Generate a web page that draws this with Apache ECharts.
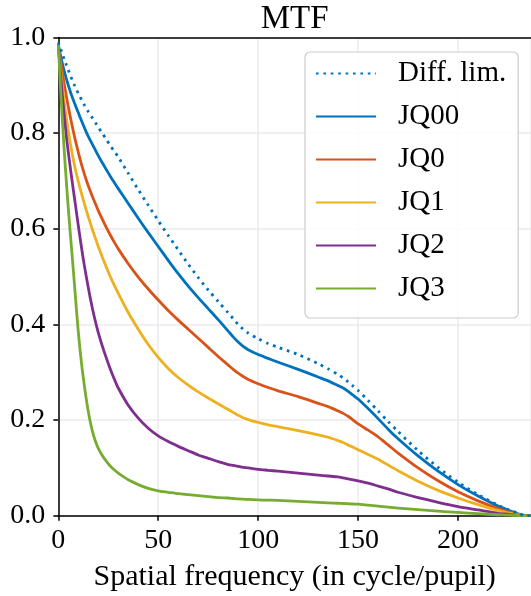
<!DOCTYPE html>
<html>
<head>
<meta charset="utf-8">
<style>
html,body{margin:0;padding:0;background:#fff;}
#chart{width:531px;height:596px;}
</style>
<script src="https://cdn.jsdelivr.net/npm/echarts@6/dist/echarts.min.js"></script>
</head>
<body>
<div id="chart"></div>
<script>
var seriesNames = ['Diff. lim.', 'JQ00', 'JQ0', 'JQ1', 'JQ2', 'JQ3'];
var freq = [0, 1, 2, 3, 4, 5, 6, 7, 8, 9, 10, 11, 12, 13, 14, 15, 16, 17, 18, 19, 20,
            22, 24, 26, 28, 30, 35, 40, 45, 50, 55, 60, 65, 70, 75, 80, 85,
            87.5, 90, 92.5, 95, 100, 105, 110, 120, 130, 135, 140, 142.5, 145, 147.5, 150,
            155, 160, 165, 170, 180, 190, 200, 210, 220, 225, 230, 234, 236.5];
var diffLim = [0.99, 0.978, 0.966, 0.954, 0.943, 0.932, 0.921, 0.911, 0.901, 0.892, 0.883, 0.875, 0.867, 0.859, 0.852, 0.845, 0.838, 0.832, 0.825, 0.819, 0.812,
            0.8, 0.787, 0.774, 0.762, 0.75, 0.716, 0.682, 0.649, 0.617, 0.586, 0.556, 0.526, 0.498, 0.472, 0.448, 0.424,
            0.412, 0.4, 0.39, 0.382, 0.37, 0.36, 0.352, 0.337, 0.318, 0.307, 0.295, 0.288, 0.28, 0.271, 0.262,
            0.241, 0.219, 0.197, 0.176, 0.136, 0.101, 0.07, 0.044, 0.022, 0.013, 0.005, 0, 0];
var jq00 = [0.985, 0.965, 0.946, 0.929, 0.914, 0.9, 0.887, 0.875, 0.864, 0.853, 0.843, 0.832, 0.822, 0.812, 0.802, 0.793, 0.785, 0.777, 0.769, 0.761, 0.753,
            0.738, 0.724, 0.71, 0.697, 0.684, 0.653, 0.622, 0.592, 0.563, 0.534, 0.506, 0.48, 0.456, 0.433, 0.41, 0.386,
            0.374, 0.363, 0.354, 0.347, 0.337, 0.329, 0.321, 0.306, 0.29, 0.282, 0.272, 0.267, 0.26, 0.252, 0.244,
            0.224, 0.203, 0.181, 0.161, 0.125, 0.093, 0.065, 0.041, 0.02, 0.012, 0.004, 0, 0];
var jq0 =  [0.985, 0.955, 0.928, 0.902, 0.878, 0.855, 0.834, 0.814, 0.795, 0.777, 0.76, 0.744, 0.729, 0.715, 0.702, 0.69, 0.679, 0.668, 0.658, 0.648, 0.638,
            0.62, 0.603, 0.587, 0.572, 0.558, 0.527, 0.499, 0.474, 0.451, 0.429, 0.409, 0.39, 0.371, 0.352, 0.333, 0.315,
            0.306, 0.298, 0.291, 0.285, 0.276, 0.268, 0.261, 0.249, 0.235, 0.228, 0.219, 0.214, 0.208, 0.2, 0.192,
            0.179, 0.165, 0.148, 0.131, 0.1, 0.073, 0.05, 0.031, 0.015, 0.009, 0.003, 0, 0];
var jq1 =  [0.985, 0.94, 0.9, 0.865, 0.833, 0.805, 0.779, 0.756, 0.735, 0.716, 0.699, 0.683, 0.668, 0.653, 0.639, 0.625, 0.612, 0.599, 0.587, 0.575, 0.563,
            0.541, 0.52, 0.5, 0.482, 0.465, 0.425, 0.39, 0.358, 0.331, 0.308, 0.289, 0.273, 0.259, 0.246, 0.234, 0.222,
            0.216, 0.21, 0.205, 0.201, 0.195, 0.19, 0.186, 0.178, 0.169, 0.164, 0.157, 0.153, 0.148, 0.143, 0.138,
            0.128, 0.118, 0.106, 0.094, 0.072, 0.053, 0.037, 0.023, 0.011, 0.006, 0.002, 0, 0];
var jq2 =  [0.985, 0.93, 0.88, 0.835, 0.795, 0.76, 0.728, 0.697, 0.667, 0.637, 0.607, 0.578, 0.55, 0.524, 0.5, 0.477, 0.455, 0.435, 0.416, 0.399, 0.383,
            0.355, 0.33, 0.307, 0.286, 0.267, 0.231, 0.204, 0.183, 0.167, 0.155, 0.145, 0.136, 0.127, 0.12, 0.113, 0.107,
            0.105, 0.103, 0.101, 0.1, 0.097, 0.095, 0.093, 0.089, 0.085, 0.083, 0.081, 0.079, 0.077, 0.075, 0.073,
            0.068, 0.062, 0.056, 0.049, 0.038, 0.028, 0.019, 0.012, 0.005, 0.003, 0.001, 0, 0];
var jq3 =  [0.985, 0.905, 0.83, 0.762, 0.7, 0.643, 0.59, 0.54, 0.488, 0.435, 0.385, 0.342, 0.305, 0.273, 0.244, 0.218, 0.196, 0.178, 0.163, 0.151, 0.141,
            0.126, 0.114, 0.104, 0.096, 0.089, 0.075, 0.065, 0.057, 0.052, 0.049, 0.046, 0.044, 0.042, 0.04, 0.038, 0.037,
            0.036, 0.035, 0.0345, 0.034, 0.033, 0.0325, 0.032, 0.03, 0.028, 0.027, 0.026, 0.0255, 0.025, 0.0245, 0.024,
            0.022, 0.02, 0.018, 0.016, 0.0125, 0.0095, 0.0068, 0.0042, 0.002, 0.0012, 0.0004, 0, 0];
var xTicks = [0, 50, 100, 150, 200];
var yTicks = ['0.0', '0.2', '0.4', '0.6', '0.8', '1.0'];
var colors = ['#0072BD', '#0072BD', '#D95319', '#EDB120', '#7E2F8E', '#77AC30'];
var valueSets = [diffLim, jq00, jq0, jq1, jq2, jq3];

var FONT = '"Liberation Serif", "DejaVu Serif", serif';

function pairs(arr) { return freq.map(function (x, i) { return [x, arr[i]]; }); }

var series = seriesNames.map(function (name, k) {
  return {
    name: name,
    type: 'line',
    data: pairs(valueSets[k]),
    symbol: 'none',
    smooth: 0.25,
    clip: true,
    z: k === 0 ? 3 : 2,
    lineStyle: {
      color: colors[k],
      width: 2.8,
      type: k === 0 ? [2.6, 4.8] : 'solid',
      cap: 'butt',
      join: 'round'
    },
    itemStyle: { color: colors[k] }
  };
});

var chart = echarts.init(document.getElementById('chart'), null, { renderer: 'canvas' });
chart.setOption({
  animation: false,
  backgroundColor: '#ffffff',
  grid: { left: 58.3, right: 0, top: 37.5, bottom: 80.3, containLabel: false, outerBoundsMode: 'none' },
  xAxis: [{
    type: 'value',
    position: 'bottom',
    min: 0, max: 236.5, interval: 50,
    name: 'Spatial frequency (in cycle/pupil)',
    nameLocation: 'middle',
    nameGap: 46,
    nameTextStyle: { fontFamily: FONT, fontSize: 30, color: '#000' },
    axisLine: { show: true, lineStyle: { color: '#000', width: 1.5 } },
    axisTick: { show: true, inside: false, length: 5, lineStyle: { color: '#000', width: 1.5 } },
    axisLabel: {
      show: true, margin: 11, fontFamily: FONT, fontSize: 28, color: '#000',
      showMaxLabel: false,
      formatter: function (v) { return xTicks.indexOf(v) >= 0 ? String(v) : ''; }
    },
    splitLine: { show: true, lineStyle: { color: '#ebebeb', width: 1.5 } }
  }, {
    type: 'value',
    position: 'top',
    min: 0, max: 236.5, interval: 50,
    name: 'MTF',
    nameLocation: 'middle',
    nameGap: 2,
    nameTextStyle: { fontFamily: FONT, fontSize: 33, color: '#000', verticalAlign: 'bottom' },
    axisLine: { show: true, lineStyle: { color: '#000', width: 1.5 } },
    axisTick: { show: false },
    axisLabel: { show: false },
    splitLine: { show: false }
  }],
  yAxis: {
    type: 'value',
    min: 0, max: 1, interval: 0.2,
    axisLine: { show: true, lineStyle: { color: '#000', width: 1.5 } },
    axisTick: { show: true, inside: false, length: 5, lineStyle: { color: '#000', width: 1.5 } },
    axisLabel: {
      show: true, margin: 13, fontFamily: FONT, fontSize: 28, color: '#000',
      formatter: function (v) { return yTicks[Math.round(v / 0.2)]; }
    },
    splitLine: { show: true, lineStyle: { color: '#ebebeb', width: 1.5 } }
  },
  legend: {
    show: true,
    orient: 'vertical',
    left: 305, top: 52,
    padding: [7, 12, 15, 10],
    itemWidth: 60, itemHeight: 14, itemGap: 14,
    itemStyle: { opacity: 0 },
    backgroundColor: 'rgba(255,255,255,0.85)',
    borderColor: '#cccccc', borderWidth: 1.2, borderRadius: 5,
    textStyle: { fontFamily: FONT, fontSize: 29, color: '#000', lineHeight: 29, padding: [0, 0, 0, 17] },
    data: seriesNames
  },
  series: series
});
</script>
</body>
</html>
